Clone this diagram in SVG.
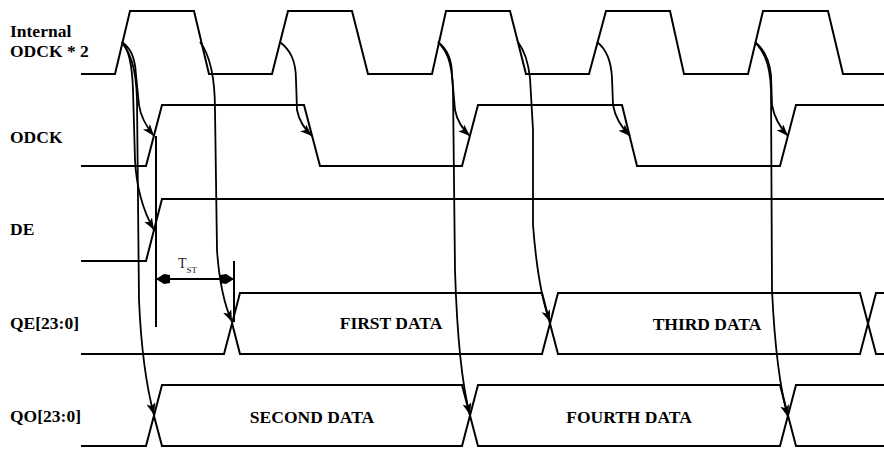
<svg xmlns="http://www.w3.org/2000/svg" width="884" height="449" viewBox="0 0 884 449">
<defs>
<style>
.sig{fill:none;stroke:#000;stroke-width:2;stroke-linejoin:miter}
.cur{fill:none;stroke:#000;stroke-width:1.8;marker-end:url(#ah)}
.lbl{font-family:"Liberation Serif","Times New Roman",serif;font-weight:bold;font-size:17.5px;fill:#000}
.dat{font-family:"Liberation Serif","Times New Roman",serif;font-weight:bold;font-size:17.5px;fill:#000;text-anchor:middle}
.tst{font-family:"Liberation Serif","Times New Roman",serif;fill:#222}
.dim{fill:none;stroke:#000;stroke-width:2}
</style>
<marker id="ah" markerUnits="userSpaceOnUse" markerWidth="14" markerHeight="10" refX="12" refY="4.5" orient="auto">
<path d="M0,0 L12,4.5 L0,9 L3,4.5 z" fill="#000"/>
</marker>
<marker id="dh" markerUnits="userSpaceOnUse" markerWidth="14" markerHeight="10" refX="14" refY="5" orient="auto-start-reverse">
<path d="M14,5 L6,0 L0,1 L0,9 L6,10 z" fill="#000"/>
</marker>
</defs>
<rect width="884" height="449" fill="#fff"/>

<g id="label-internal-odck2">
<text class="lbl" x="10" y="37">Internal</text>
<text class="lbl" x="10" y="57">ODCK * 2</text>
</g>
<g id="label-odck"><text class="lbl" x="10" y="143">ODCK</text></g>
<g id="label-de"><text class="lbl" x="10" y="235">DE</text></g>
<g id="label-qe"><text class="lbl" x="10" y="329">QE[23:0]</text></g>
<g id="label-qo"><text class="lbl" x="10" y="422">QO[23:0]</text></g>

<g id="sig-odck2">
<path class="sig" d="M81,74 L115,74 L130,11 L194,11 L209,74 L272,74 L288,11 L352,11 L368,74 L432,74 L446,11 L510,11 L526,74 L589,74 L606,11 L670,11 L684,74 L748,74 L763,11 L828,11 L843,74 L884,74"/>
</g>
<g id="sig-odck">
<path class="sig" d="M81,166 L146,166 L162,105 L304,105 L320,166 L462,166 L478,105 L622,105 L637,166 L780,166 L796,105 L884,105"/>
</g>
<g id="sig-de">
<path class="sig" d="M81,261 L146,261 L162,199 L884,199"/>
</g>
<g id="sig-qe">
<path class="sig" d="M81,354 L224,354 L240,293 L542,293 L558,354 L860,354 L876,293 L884,293"/>
<path class="sig" d="M232,323 L240,354 L542,354 L558,293 L860,293 L876,354 L884,354"/>
<text class="dat" x="391" y="329">FIRST DATA</text>
<text class="dat" x="707" y="330">THIRD DATA</text>
</g>
<g id="sig-qo">
<path class="sig" d="M81,446 L146,446 L162,385 L462,385 L478,446 L780,446 L796,385 L884,385"/>
<path class="sig" d="M154,416 L162,446 L462,446 L478,385 L780,385 L796,446 L884,446"/>
<text class="dat" x="312" y="423">SECOND DATA</text>
<text class="dat" x="629" y="423">FOURTH DATA</text>
</g>

<g id="tst">
<path class="dim" d="M156,136 L156,327"/>
<path class="dim" d="M234,261 L234,322"/>
<path class="dim" d="M156,279 L234,279" marker-start="url(#dh)" marker-end="url(#dh)"/>
<text class="tst" x="178" y="268" font-size="14">T<tspan font-size="9" dy="5">ST</tspan></text>
</g>

<g id="connectors">
<path class="cur" d="M122,42 C130,48 135,56 136,75 L139,105 Q141,120 154,136"/>
<path class="cur" d="M122,42 C128,48 132,60 133,90 L135,160 Q137,200 154,230"/>
<path class="cur" d="M122,42 C127,50 136,60 137,100 L139,300 Q142,370 154,415"/>
<path class="cur" d="M200,42 C210,55 215,80 215,110 L217,250 Q220,295 232,322"/>
<path class="cur" d="M280,42 C290,50 296,60 296,80 L297,110 Q300,125 312,136"/>
<path class="cur" d="M438,42 C446,48 452,58 452,75 L455,110 Q458,125 470,136"/>
<path class="cur" d="M438,42 C446,50 452,60 453,90 L455,270 Q458,370 470,415"/>
<path class="cur" d="M518,42 C524,50 528,60 530,78 L533,130 L533,225 Q538,290 550,322"/>
<path class="cur" d="M597,42 C605,48 611,58 612,78 L613,105 Q616,122 630,136"/>
<path class="cur" d="M755,42 C763,48 769,58 771,75 L772,105 Q775,122 788,136"/>
<path class="cur" d="M755,42 C762,50 770,60 771,90 L772,290 Q776,375 788,417"/>
</g>
</svg>
